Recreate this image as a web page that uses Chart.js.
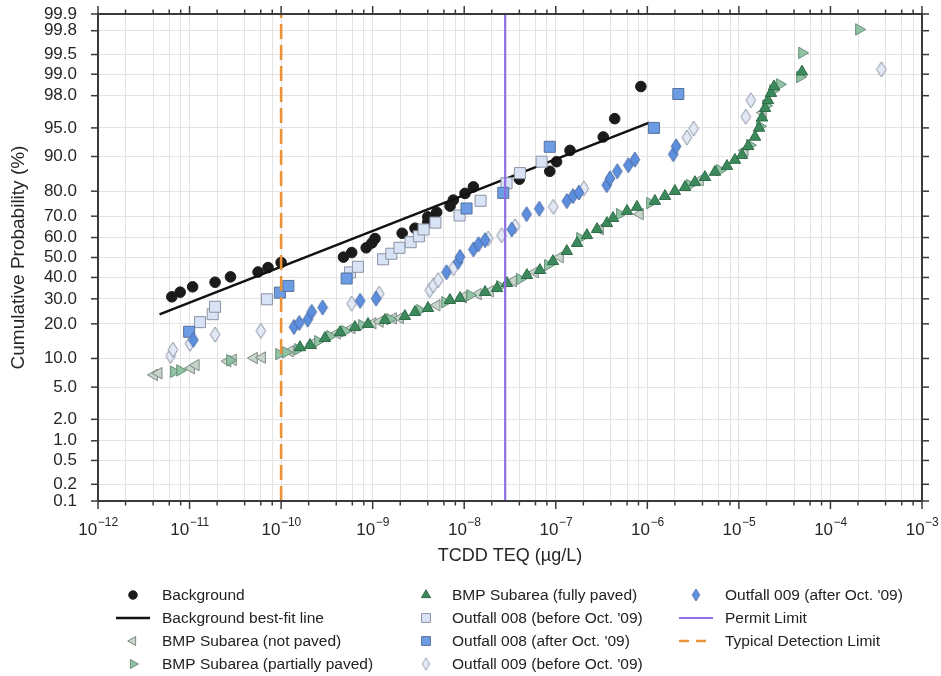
<!DOCTYPE html>
<html>
<head>
<meta charset="utf-8">
<script src="https://cdn.jsdelivr.net/npm/chart.js@4.4.1/dist/chart.umd.min.js"></script>
<style>
  html, body { margin: 0; padding: 0; background: #fff; }
  #wrap { width: 941px; height: 676px; position: relative; }
</style>
</head>
<body>
<div id="wrap"><canvas id="probChart"></canvas></div>
<script>
// concentrations in ug/L, probabilities in %
const bgConc = [6.4e-12, 7.9e-12, 1.08e-11, 1.9e-11, 2.8e-11, 5.6e-11, 7.2e-11, 1.0e-10, 4.8e-10, 5.9e-10, 8.5e-10, 9.8e-10, 1.06e-9, 2.1e-9, 2.9e-9, 4.0e-9, 4.0e-9, 5.0e-9, 7.0e-9, 7.6e-9, 1.02e-8, 1.26e-8, 4.0e-8, 8.6e-8, 1.02e-7, 1.43e-7, 3.3e-7, 4.4e-7, 8.5e-7];
const bgProb = [30.9, 33.0, 35.5, 37.7, 40.3, 42.7, 44.9, 47.5, 50.2, 52.5, 54.9, 57.3, 59.5, 62.1, 64.5, 67.4, 69.7, 71.7, 74.3, 76.7, 79.2, 81.5, 84.0, 86.3, 88.8, 91.3, 93.7, 96.1, 98.5];

const fitConc = [4.7e-12, 1.05e-6];
const fitProb = [23.5, 95.65];

const npConc = [4.1e-12, 4.6e-12, 1.04e-11, 1.17e-11, 2.6e-11, 2.98e-11, 5.06e-11, 6.2e-11, 1.25e-10, 2.23e-10, 4.08e-10, 5.9e-10, 1.0e-9, 1.2e-9, 1.67e-9, 1.99e-9, 5.0e-9, 9.7e-9, 1.41e-8, 1.91e-8, 3.41e-8, 5.93e-8, 1.11e-7, 3.04e-7, 8.3e-7, 3.76e-6, 1.16e-5, 1.83e-5];
const npProb = [6.8, 7.1, 8.0, 8.6, 9.4, 9.7, 10.1, 10.2, 11.7, 13.8, 16.8, 18.5, 20.2, 20.8, 22.0, 22.1, 27.2, 30.7, 32.1, 33.4, 38.2, 42.6, 50.2, 64.0, 70.9, 83.7, 91.3, 96.7];

const ppConc = [6.76e-12, 7.87e-12, 2.77e-11, 9.5e-11, 1.13e-10, 1.53e-10, 2.53e-10, 3.42e-10, 4.99e-10, 7.64e-10, 1.55e-9, 3.29e-9, 6.17e-9, 1.16e-8, 2.46e-8, 4.06e-8, 8.2e-8, 1.84e-7, 5.0e-7, 1.07e-6, 2.92e-6, 6.2e-6, 1.32e-5, 1.70e-5, 1.98e-5, 2.36e-5, 2.81e-5, 4.65e-5, 4.89e-5, 2.05e-4];
const ppProb = [7.35, 7.6, 9.6, 11.0, 11.45, 12.2, 14.4, 15.9, 17.5, 19.5, 21.7, 25.2, 28.5, 31.6, 35.8, 39.2, 46.1, 59.7, 70.9, 75.5, 82.1, 86.6, 92.3, 95.2, 97.3, 98.3, 98.6, 98.9, 99.53, 99.81];

const fpConc = [1.61e-10, 2.07e-10, 3.01e-10, 4.4e-10, 6.41e-10, 8.9e-10, 1.36e-9, 2.25e-9, 2.9e-9, 4.02e-9, 6.98e-9, 9.0e-9, 1.69e-8, 2.28e-8, 2.93e-8, 4.84e-8, 6.71e-8, 9.3e-8, 1.32e-7, 1.71e-7, 2.19e-7, 2.82e-7, 3.62e-7, 4.22e-7, 6.0e-7, 7.7e-7, 1.21e-6, 1.56e-6, 2.0e-6, 2.58e-6, 3.31e-6, 4.26e-6, 5.48e-6, 7.41e-6, 9.06e-6, 1.08e-5, 1.26e-5, 1.50e-5, 1.66e-5, 1.79e-5, 1.93e-5, 2.08e-5, 2.24e-5, 2.42e-5, 4.89e-5];
const fpProb = [12.7, 13.3, 15.3, 17.1, 18.8, 19.9, 21.3, 22.8, 24.4, 26.0, 29.4, 30.3, 33.0, 34.8, 37.2, 41.1, 43.6, 48.1, 53.2, 57.2, 61.1, 64.0, 66.8, 69.1, 72.2, 73.9, 76.3, 78.2, 80.0, 81.4, 83.0, 84.6, 86.1, 87.7, 89.2, 90.3, 92.1, 93.7, 95.0, 96.2, 97.1, 97.7, 98.15, 98.5, 99.08];

const o8bConc = [1.3e-11, 1.79e-11, 1.9e-11, 7.0e-11, 5.65e-10, 6.9e-10, 1.3e-9, 1.6e-9, 1.96e-9, 2.6e-9, 3.2e-9, 3.6e-9, 4.85e-9, 8.9e-9, 1.51e-8, 2.9e-8, 4.06e-8, 7.0e-8];
const o8bProb = [20.6, 23.6, 26.6, 29.8, 42.5, 45.3, 49.1, 51.9, 54.9, 57.7, 60.6, 63.9, 67.1, 70.3, 76.4, 82.7, 85.8, 88.8];

const o8aConc = [9.9e-12, 9.7e-11, 1.2e-10, 5.2e-10, 1.06e-8, 2.67e-8, 8.6e-8, 1.18e-6, 2.18e-6];
const o8aProb = [17.3, 32.8, 35.9, 39.5, 73.3, 79.4, 92.0, 95.0, 98.1];

const o9bConc = [6.2e-12, 6.6e-12, 1.01e-11, 1.9e-11, 6.0e-11, 5.9e-10, 1.18e-9, 4.2e-9, 4.6e-9, 5.2e-9, 7.6e-9, 1.83e-8, 2.56e-8, 3.6e-8, 9.4e-8, 2.03e-7, 2.7e-6, 3.2e-6, 1.19e-5, 1.35e-5, 3.6e-4];
const o9bProb = [10.6, 12.1, 13.7, 16.4, 17.6, 27.9, 32.3, 33.9, 36.2, 38.7, 44.6, 59.5, 61.1, 65.4, 74.0, 81.0, 93.6, 94.9, 96.3, 97.7, 99.15];

const o9aConc = [1.1e-11, 1.38e-10, 1.58e-10, 1.95e-10, 2.16e-10, 2.84e-10, 7.3e-10, 1.09e-9, 6.4e-9, 8.6e-9, 9.0e-9, 1.26e-8, 1.43e-8, 1.69e-8, 3.3e-8, 4.8e-8, 6.6e-8, 1.32e-7, 1.54e-7, 1.79e-7, 3.6e-7, 3.9e-7, 4.7e-7, 6.2e-7, 7.3e-7, 1.92e-6, 2.06e-6];
const o9aProb = [14.8, 18.9, 20.3, 21.5, 24.5, 26.3, 29.1, 30.1, 42.6, 47.8, 50.3, 54.1, 56.7, 58.7, 63.9, 70.9, 73.2, 76.3, 78.2, 79.5, 82.1, 84.2, 86.3, 87.9, 89.3, 90.5, 92.1];

const permitConc = 2.8e-8;
const detectConc = 1e-10;

const yTickProbs = [0.1, 0.2, 0.5, 1, 2, 5, 10, 20, 30, 40, 50, 60, 70, 80, 90, 95, 98, 99, 99.5, 99.8, 99.9];
const yTickLabels = yTickProbs.map(p => p.toFixed(1));
const xExponents = [-12, -11, -10, -9, -8, -7, -6, -5, -4, -3];
const xMinorSteps = [2, 4, 6, 8];

const FONT = '"Liberation Sans", Arial, Helvetica, sans-serif';

// inverse of the standard normal cdf (Acklam)
function probit(p) {
  const a = [-39.69683028665376, 220.9460984245205, -275.9285104469687, 138.3577518672690, -30.66479806614716, 2.506628277459239];
  const b = [-54.47609879822406, 161.5858368580409, -155.6989798598866, 66.80131188771972, -13.28068155288572];
  const c = [-0.007784894002430293, -0.3223964580411365, -2.400758277161838, -2.549732539343734, 4.374664141464968, 2.938163982698783];
  const d = [0.007784695709041462, 0.3224671290700398, 2.445134137142996, 3.754408661907416];
  const pl = 0.02425;
  let q, r;
  if (p < pl) {
    q = Math.sqrt(-2 * Math.log(p));
    return (((((c[0]*q+c[1])*q+c[2])*q+c[3])*q+c[4])*q+c[5]) / ((((d[0]*q+d[1])*q+d[2])*q+d[3])*q+1);
  }
  if (p <= 1 - pl) {
    q = p - 0.5; r = q * q;
    return (((((a[0]*r+a[1])*r+a[2])*r+a[3])*r+a[4])*r+a[5])*q / (((((b[0]*r+b[1])*r+b[2])*r+b[3])*r+b[4])*r+1);
  }
  q = Math.sqrt(-2 * Math.log(1 - p));
  return -(((((c[0]*q+c[1])*q+c[2])*q+c[3])*q+c[4])*q+c[5]) / ((((d[0]*q+d[1])*q+d[2])*q+d[3])*q+1);
}

const yMin = probit(0.001), yMax = probit(0.999);
const pts = (xs, ps) => xs.map((x, i) => ({ x: x, y: probit(ps[i] / 100) }));
const vline = x => [{ x: x, y: yMin }, { x: x, y: yMax }];

function diamond(fill, stroke) {
  const c = document.createElement('canvas');
  c.width = 12; c.height = 17;
  const g = c.getContext('2d');
  g.beginPath();
  g.moveTo(6, 1); g.lineTo(10.8, 8.5); g.lineTo(6, 16); g.lineTo(1.2, 8.5); g.closePath();
  g.fillStyle = fill; g.fill();
  g.lineWidth = 1; g.strokeStyle = stroke; g.stroke();
  return c;
}

const datasets = [
  { label: 'Background', data: pts(bgConc, bgProb), pointStyle: 'circle', pointRadius: 5.3,
    backgroundColor: '#1b1b1b', borderColor: '#1b1b1b', borderWidth: 1 },
  { label: 'Background best-fit line', data: pts(fitConc, fitProb), showLine: true, pointRadius: 0,
    borderColor: '#111111', borderWidth: 2.5 },
  { label: 'BMP Subarea (not paved)', data: pts(npConc, npProb), pointStyle: 'triangle', pointRotation: -90, pointRadius: 6.6,
    backgroundColor: '#c6d4ca', borderColor: '#7d8a83', borderWidth: 1 },
  { label: 'BMP Subarea (partially paved)', data: pts(ppConc, ppProb), pointStyle: 'triangle', pointRotation: 90, pointRadius: 6.6,
    backgroundColor: '#8fc3a3', borderColor: '#6a8d79', borderWidth: 1 },
  { label: 'BMP Subarea (fully paved)', data: pts(fpConc, fpProb), pointStyle: 'triangle', pointRadius: 6.6,
    backgroundColor: '#3c8a5c', borderColor: '#2f6b49', borderWidth: 1 },
  { label: "Outfall 008 (before Oct. '09)", data: pts(o8bConc, o8bProb), pointStyle: 'rect', pointRadius: 7.8,
    backgroundColor: '#d8e3f5', borderColor: '#8b93a3', borderWidth: 1 },
  { label: "Outfall 008 (after Oct. '09)", data: pts(o8aConc, o8aProb), pointStyle: 'rect', pointRadius: 7.8,
    backgroundColor: '#6c9ce4', borderColor: '#56729c', borderWidth: 1 },
  { label: "Outfall 009 (before Oct. '09)", data: pts(o9bConc, o9bProb), pointStyle: diamond('#e2e8f6', '#8a90a0'),
    backgroundColor: '#e2e8f6', borderColor: '#8a90a0', borderWidth: 1 },
  { label: "Outfall 009 (after Oct. '09)", data: pts(o9aConc, o9aProb), pointStyle: diamond('#5c8fe0', '#4a69a0'),
    backgroundColor: '#5c8fe0', borderColor: '#4a69a0', borderWidth: 1 },
  { label: 'Permit Limit', data: vline(permitConc), showLine: true, pointRadius: 0,
    borderColor: '#8f6fe2', borderWidth: 2.2 },
  { label: 'Typical Detection Limit', data: vline(detectConc), showLine: true, pointRadius: 0,
    borderColor: '#e8923a', borderWidth: 2.6, borderDash: [15, 6] }
];
datasets.forEach((ds, i) => { ds.order = -i; ds.pointHoverRadius = ds.pointRadius; });

// frame, outward tick marks and 10^n labels
const framePlugin = {
  id: 'framePlugin',
  afterDraw(chart) {
    const { ctx, chartArea: a, scales: { x, y } } = chart;
    ctx.save();
    ctx.strokeStyle = '#3a3a3a';
    ctx.lineWidth = 1.5;
    const seg = (x1, y1, x2, y2) => { ctx.beginPath(); ctx.moveTo(x1, y1); ctx.lineTo(x2, y2); ctx.stroke(); };
    x.ticks.forEach(t => {
      const lg = Math.log10(t.value);
      const major = Math.abs(lg - Math.round(lg)) < 1e-6;
      const px = x.getPixelForValue(t.value);
      const len = major ? 8 : 4.5;
      seg(px, a.top, px, a.top - len);
      seg(px, a.bottom, px, a.bottom + len);
    });
    y.ticks.forEach(t => {
      const py = y.getPixelForValue(t.value);
      seg(a.left - 7, py, a.left, py);
      seg(a.right, py, a.right + 7, py);
    });
    ctx.lineWidth = 2;
    ctx.strokeRect(a.left, a.top, a.right - a.left, a.bottom - a.top);

    ctx.fillStyle = '#262626';
    ctx.textAlign = 'left';
    ctx.textBaseline = 'alphabetic';
    xExponents.forEach(e => {
      const px = x.getPixelForValue(Math.pow(10, e));
      const base = '10', sup = '\u2212' + Math.abs(e);
      ctx.font = '17px ' + FONT;
      const wb = ctx.measureText(base).width;
      ctx.font = '12px ' + FONT;
      const ws = ctx.measureText(sup).width;
      const x0 = px - (wb + ws) / 2;
      ctx.font = '17px ' + FONT;
      ctx.fillText(base, x0, a.bottom + 34);
      ctx.font = '12px ' + FONT;
      ctx.fillText(sup, x0 + wb + 0.5, a.bottom + 25);
    });
    ctx.restore();
  }
};

// three-column legend under the plot, filled column by column
const legendCols = [{ mark: 133, text: 162 }, { mark: 426, text: 452 }, { mark: 696, text: 725 }];
const legendRows = [595, 618, 641, 664];

function drawMark(ctx, ds, cx, cy) {
  ctx.save();
  ctx.translate(cx, cy);
  if (ds.pointRadius === 0) {
    ctx.strokeStyle = ds.borderColor;
    ctx.lineWidth = ds.borderWidth;
    ctx.setLineDash(ds.borderDash ? [10, 7] : []);
    ctx.beginPath(); ctx.moveTo(-17, 0); ctx.lineTo(17, 0); ctx.stroke();
    ctx.restore();
    return;
  }
  const s = 0.8;
  if (typeof ds.pointStyle !== 'string') {
    const img = ds.pointStyle;
    ctx.drawImage(img, -img.width * s / 2, -img.height * s / 2, img.width * s, img.height * s);
    ctx.restore();
    return;
  }
  ctx.rotate((ds.pointRotation || 0) * Math.PI / 180);
  ctx.fillStyle = ds.backgroundColor;
  ctx.strokeStyle = ds.borderColor;
  ctx.lineWidth = ds.borderWidth;
  const r = ds.pointRadius * s;
  ctx.beginPath();
  if (ds.pointStyle === 'circle') {
    ctx.arc(0, 0, r, 0, Math.PI * 2);
  } else if (ds.pointStyle === 'rect') {
    const h = r * Math.SQRT1_2;
    ctx.rect(-h, -h, 2 * h, 2 * h);
  } else {
    for (let k = 0; k < 3; k++) {
      const ang = k * 2 * Math.PI / 3;
      ctx[k ? 'lineTo' : 'moveTo'](Math.sin(ang) * r, -Math.cos(ang) * r);
    }
    ctx.closePath();
  }
  ctx.fill();
  ctx.stroke();
  ctx.restore();
}

const legendPlugin = {
  id: 'columnLegend',
  afterDraw(chart) {
    const ctx = chart.ctx;
    ctx.save();
    ctx.font = '15.5px ' + FONT;
    ctx.fillStyle = '#222222';
    ctx.textBaseline = 'middle';
    ctx.textAlign = 'left';
    chart.data.datasets.forEach((ds, i) => {
      const col = legendCols[Math.floor(i / 4)];
      const y = legendRows[i % 4];
      drawMark(ctx, ds, col.mark, y);
      ctx.fillText(ds.label, col.text, y + 1);
    });
    ctx.restore();
  }
};

new Chart(document.getElementById('probChart'), {
  type: 'scatter',
  data: { datasets: datasets },
  options: {
    responsive: true,
    maintainAspectRatio: false,
    animation: false,
    layout: { padding: { top: 14, right: 19, bottom: 105, left: 0 } },
    plugins: { legend: { display: false }, tooltip: { enabled: false } },
    scales: {
      x: {
        type: 'logarithmic',
        min: 1e-12,
        max: 1e-3,
        afterBuildTicks: scale => {
          const t = [];
          xExponents.forEach(e => {
            t.push({ value: Math.pow(10, e) });
            if (e < -3) xMinorSteps.forEach(m => t.push({ value: m * Math.pow(10, e) }));
          });
          scale.ticks = t;
        },
        afterFit: scale => {
          scale.height = 70;
          scale.paddingLeft = 0;
          scale.paddingRight = 0;
        },
        ticks: { autoSkip: false, maxRotation: 0, callback: () => '' },
        grid: { color: '#e3e3e3', lineWidth: 1, drawTicks: false },
        border: { display: false },
        title: { display: true, text: 'TCDD TEQ (\u00b5g/L)', color: '#262626',
          font: { family: FONT, size: 18 }, padding: { top: 0, bottom: 4 } }
      },
      y: {
        type: 'linear',
        min: yMin,
        max: yMax,
        afterBuildTicks: scale => {
          scale.ticks = yTickProbs.map(p => ({ value: probit(p / 100) }));
        },
        afterFit: scale => {
          scale.width = 98;
          scale.paddingTop = 0;
          scale.paddingBottom = 0;
        },
        ticks: {
          autoSkip: false,
          padding: 21,
          color: '#262626',
          font: { family: FONT, size: 17 },
          callback: (value, index) => yTickLabels[index]
        },
        grid: { color: '#e3e3e3', lineWidth: 1, drawTicks: false },
        border: { display: false },
        title: { display: true, text: 'Cumulative Probability (%)', color: '#262626',
          font: { family: FONT, size: 19 }, padding: { top: 7, bottom: 0 } }
      }
    }
  },
  plugins: [framePlugin, legendPlugin]
});
</script>
</body>
</html>
